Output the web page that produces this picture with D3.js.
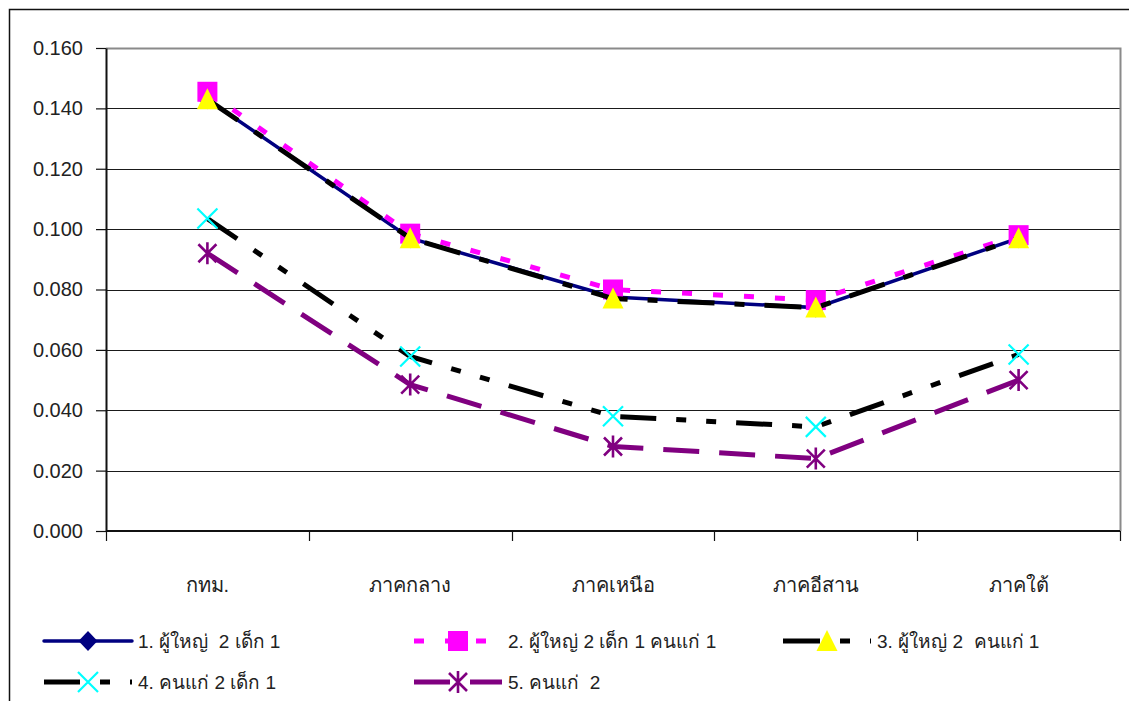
<!DOCTYPE html>
<html>
<head>
<meta charset="utf-8">
<script src="https://cdn.jsdelivr.net/npm/d3@7"></script>
<style>
    body { margin: 0; background: #fff; }
    #chart { width: 1129px; height: 701px; }
    text { font-family: "Liberation Sans", "Noto Sans", Arial, sans-serif; fill: #222; }
</style>
</head>
<body>
<div id="chart"></div>
<script>
const categories = ["กทม.", "ภาคกลาง", "ภาคเหนือ", "ภาคอีสาน", "ภาคใต้"];
const yTicks = [0, 0.02, 0.04, 0.06, 0.08, 0.10, 0.12, 0.14, 0.16];

const seriesNames = [
    "1. ผู้ใหญ่  2 เด็ก 1",
    "2. ผู้ใหญ่ 2 เด็ก 1 คนแก่ 1",
    "3. ผู้ใหญ่ 2  คนแก่ 1",
    "4. คนแก่ 2 เด็ก 1",
    "5. คนแก่  2"
];
const adult2child1 = [0.143, 0.097, 0.0775, 0.074, 0.097];
const adult2child1elder1 = [0.1455, 0.0985, 0.080, 0.0765, 0.098];
const adult2elder1 = [0.143, 0.097, 0.077, 0.074, 0.097];
const elder2child1 = [0.1035, 0.0578, 0.038, 0.0345, 0.0585];
const elder2 = [0.092, 0.0485, 0.028, 0.024, 0.050];

class LineChart {
    constructor(DOM_ID) {
        this.id = DOM_ID;
        this.width = 1129;
        this.height = 701;
        this.plot = { left: 106, right: 1120, top: 48, bottom: 531 };

        this.series = [
            { name: seriesNames[0], values: adult2child1, color: "#000080", width: 3.5, dash: null, marker: "diamond", mColor: "#000080" },
            { name: seriesNames[1], values: adult2child1elder1, color: "#FF00FF", width: 5, dash: "10,21", marker: "square", mColor: "#FF00FF" },
            { name: seriesNames[2], values: adult2elder1, color: "#000000", width: 5, dash: "37,20,10,20", marker: "triangle", mColor: "#FFFF00" },
            { name: seriesNames[3], values: elder2child1, color: "#000000", width: 5, dash: "36,20,10,20,10,20", marker: "x", mColor: "#00FFFF" },
            { name: seriesNames[4], values: elder2, color: "#800080", width: 5, dash: "36,20", marker: "star", mColor: "#800080" }
        ];

        this.x = d3.scaleBand().domain(categories).range([this.plot.left, this.plot.right]);
        this.y = d3.scaleLinear().domain([0, 0.16]).range([this.plot.bottom, this.plot.top]);

        this.render();
    }

    render() {
        this.svg = d3.select("#" + this.id)
            .append("svg")
            .attr("width", this.width)
            .attr("height", this.height)
            .style("background-color", "white");

        // outer chart frame (only top and left visible in the scan)
        this.svg.append("path")
            .attr("d", "M9.5," + this.height + "V9.5H" + this.width)
            .attr("fill", "none")
            .attr("stroke", "#111")
            .attr("stroke-width", 1.5);

        this.renderGrid();
        this.renderAxes();

        let lineGroup = this.svg.append("g").attr("class", "series");
        this.series.forEach((s) => {
            let line = d3.line()
                .x((d, i) => this.x(categories[i]) + this.x.bandwidth() / 2)
                .y((d) => this.y(d));
            let g = lineGroup.append("g");
            g.append("path")
                .datum(s.values)
                .attr("d", line)
                .attr("fill", "none")
                .attr("stroke", s.color)
                .attr("stroke-width", s.width)
                .attr("stroke-dasharray", s.dash);
            g.selectAll("g.marker")
                .data(s.values)
                .enter()
                .append("g")
                .attr("class", "marker")
                .attr("transform", (d, i) => "translate(" + (this.x(categories[i]) + this.x.bandwidth() / 2) + "," + this.y(d) + ")")
                .each(function () { LineChart.drawMarker(d3.select(this), s); });
        });

        this.renderLegend();
    }

    renderGrid() {
        let p = this.plot;
        this.svg.append("g").attr("class", "grid")
            .selectAll("line")
            .data(yTicks.filter((t) => t > 0 && t < 0.16))
            .enter()
            .append("line")
            .attr("x1", p.left)
            .attr("x2", p.right)
            .attr("y1", (d) => Math.round(this.y(d)) + 0.5)
            .attr("y2", (d) => Math.round(this.y(d)) + 0.5)
            .attr("stroke", "#1a1a1a")
            .attr("stroke-width", 1);

        // plot area border: grey top and right
        this.svg.append("path")
            .attr("d", "M" + p.left + "," + (p.top + 0.5) + "H" + (p.right + 0.5) + "V" + p.bottom)
            .attr("fill", "none")
            .attr("stroke", "#8a8a8a")
            .attr("stroke-width", 2);
    }

    renderAxes() {
        let p = this.plot;
        let yAxis = d3.axisLeft(this.y)
            .tickValues(yTicks)
            .tickFormat(d3.format(".3f"))
            .tickSizeInner(10)
            .tickSizeOuter(0)
            .tickPadding(13);
        let gy = this.svg.append("g")
            .attr("transform", "translate(" + p.left + ",0)")
            .call(yAxis);
        gy.select(".domain").attr("stroke", "#111").attr("stroke-width", 2);
        gy.selectAll(".tick line").attr("stroke", "#111").attr("stroke-width", 1.2);
        gy.selectAll(".tick text")
            .attr("font-size", 20)
            .attr("font-family", null)
            .attr("fill", "#222");

        // category axis: ticks at band edges, labels below
        let gx = this.svg.append("g").attr("class", "x-axis");
        gx.append("line")
            .attr("x1", p.left).attr("x2", p.right)
            .attr("y1", p.bottom).attr("y2", p.bottom)
            .attr("stroke", "#111").attr("stroke-width", 2);
        let edges = categories.map((c) => this.x(c)).concat([this.x.range()[1]]);
        gx.selectAll("line.tick")
            .data(edges)
            .enter()
            .append("line")
            .attr("class", "tick")
            .attr("x1", (d) => Math.round(d) + 0.5).attr("x2", (d) => Math.round(d) + 0.5)
            .attr("y1", p.bottom).attr("y2", p.bottom + 10)
            .attr("stroke", "#111").attr("stroke-width", 1.2);
        gx.selectAll("text")
            .data(categories)
            .enter()
            .append("text")
            .attr("x", (d) => this.x(d) + this.x.bandwidth() / 2)
            .attr("y", 592)
            .attr("text-anchor", "middle")
            .attr("font-size", 20)
            .text((d) => d);
    }

    renderLegend() {
        let cols = [44, 414, 783];
        let rows = [641, 682];
        let keyLen = 88;
        let legend = this.svg.append("g").attr("class", "legend");
        this.series.forEach((s, i) => {
            let x0 = cols[i % 3];
            let y0 = rows[Math.floor(i / 3)];
            let item = legend.append("g").attr("transform", "translate(" + x0 + "," + y0 + ")");
            item.append("line")
                .attr("x1", 0).attr("x2", keyLen)
                .attr("y1", 0).attr("y2", 0)
                .attr("stroke", s.color)
                .attr("stroke-width", s.width)
                .attr("stroke-dasharray", s.dash)
                .attr("stroke-linecap", s.dash ? "butt" : "round");
            LineChart.drawMarker(item.append("g").attr("transform", "translate(" + (keyLen / 2) + ",0)"), s);
            item.append("text")
                .attr("x", keyLen + 6)
                .attr("y", 7)
                .attr("font-size", 19)
                .style("white-space", "pre")
                .attr("xml:space", "preserve")
                .text(s.name);
        });
    }

    static drawMarker(g, s) {
        let r = 10;
        if (s.marker == "diamond") {
            g.append("path").attr("d", "M0,-10L9.5,0L0,10L-9.5,0Z").attr("fill", s.mColor);
        } else if (s.marker == "square") {
            g.append("rect").attr("x", -r).attr("y", -r).attr("width", 2 * r).attr("height", 2 * r).attr("fill", s.mColor);
        } else if (s.marker == "triangle") {
            g.append("path").attr("d", "M0,-11L10.5,10L-10.5,10Z").attr("fill", s.mColor);
        } else if (s.marker == "x") {
            g.append("path").attr("d", "M-10,-10L10,10M10,-10L-10,10")
                .attr("stroke", s.mColor).attr("stroke-width", 2.2).attr("fill", "none");
        } else if (s.marker == "star") {
            g.append("path").attr("d", "M-9,-9L9,9M9,-9L-9,9M0,-11V11")
                .attr("stroke", s.mColor).attr("stroke-width", 2.6).attr("fill", "none");
        }
    }
}

new LineChart("chart");
</script>
</body>
</html>
